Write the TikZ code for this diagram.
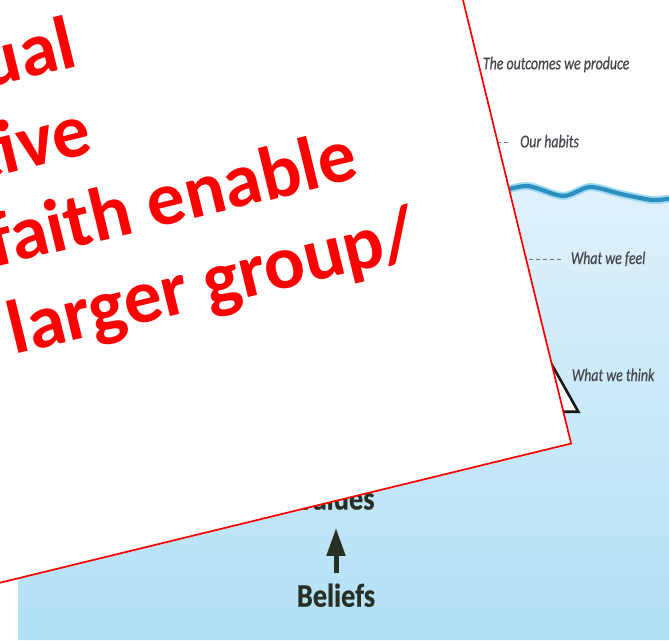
\documentclass[tikz,border=0pt]{standalone}
\usepackage{fontspec}
\usetikzlibrary{arrows.meta}
\newfontfamily\cardfont{Carlito}
\newfontfamily\labelfont[FakeStretch=0.77,FakeBold=0.6]{Carlito}
\newfontfamily\diagfont[FakeStretch=0.86,FakeBold=0.5]{Carlito}
\definecolor{cardred}{HTML}{FF0000}
\definecolor{labelgray}{HTML}{46464E}
\definecolor{dashgray}{HTML}{70707A}
\definecolor{waveblue}{HTML}{2B8FBF}
\definecolor{waveglow}{HTML}{A3DBF2}
\definecolor{watertop}{HTML}{E0F1FB}
\definecolor{waterbot}{HTML}{B2E0F6}
\definecolor{diagdark}{HTML}{283026}
\tikzset{
  lbl/.style={anchor=base west, inner sep=0pt, text=labelgray,
    font=\labelfont\itshape\fontsize{18}{20}\selectfont},
  dashline/.style={draw=dashgray, line width=1pt, dash pattern=on 4pt off 3pt},
  bigword/.style={inner sep=0pt, anchor=base, text=diagdark,
    font=\diagfont\bfseries\fontsize{33}{36}\selectfont},
  redline/.style={anchor=base east, inner sep=0pt, text=cardred,
    font=\cardfont\bfseries\fontsize{76}{90}\selectfont},
  cardbox/.style={fill=white, draw=cardred, line width=1.7pt, line join=miter},
}
\begin{document}
\begin{tikzpicture}[x=1pt,y=-1pt]
\useasboundingbox (0,0) rectangle (669,640);
\clip (0,0) rectangle (669,640);
\fill[white] (0,0) rectangle (669,640);
% water body
\shade[top color=watertop, bottom color=waterbot]
  (18,640) -- (18,200) -- plot[smooth] coordinates {(496,193) (527,186) (563,196) (590,187) (621,194) (652,200) (669,198.5)}
  -- (669,640) -- cycle;
% water surface
\draw[waveglow, line width=8pt] plot[smooth] coordinates {(496,193) (527,186) (563,196) (590,187) (621,194) (652,200) (669,198.5)};
\draw[waveblue, line width=4.2pt] plot[smooth] coordinates {(496,193) (527,186) (563,196) (590,187) (621,194) (652,200) (669,198.5)};
% labels
\node[lbl] (outcomes) at (482.7,69.3) {The outcomes we produce};
\node[lbl] (habits) at (520,147.3) {Our habits};
\node[lbl] (feel) at (570.7,264) {What we feel};
\node[lbl] (think) at (571.7,381) {What we think};
\coordinate (habitsdash) at (490,142.7);
\coordinate (feeldash) at (515,259);
\draw[dashline, shorten >=10pt] (habitsdash) -- (habits.west |- habitsdash);
\draw[dashline, shorten >=9pt] (feeldash) -- (feel.west |- feeldash);
% iceberg tip
\draw[line width=2.6pt, draw=black!90, fill=white, line join=miter]
  (540.8,345) -- (578.3,411.7) -- (470,411.7) -- cycle;
% values / beliefs
\node[bigword] (values) at (336,509.5) {Values};
\node[bigword] (beliefs) at (336,606.7) {Beliefs};
\draw[line width=5pt, draw=diagdark, -{Triangle[width=18pt,length=28pt]},
  shorten <=10pt, shorten >=18pt] (beliefs.north) -- (values.south);
% overlaid card
\begin{scope}[shift={(571.1,443.5)}, rotate=13.7, transform shape]
  \draw[cardbox] (0,0) -- (0,-900) -- (-1000,-900) -- (-1000,0) -- cycle;
  \node[redline] (l1) at (-387.4,-483.4) {ual};
  \node[redline] (l2) at (-393.9,-395.6) {tive};
  \node[redline] (l3) at (-141.0,-307.8) {faith enable};
  \node[redline] (l4) at (-102.0,-218.0) {larger group/};
\end{scope}
\end{tikzpicture}
\end{document}
